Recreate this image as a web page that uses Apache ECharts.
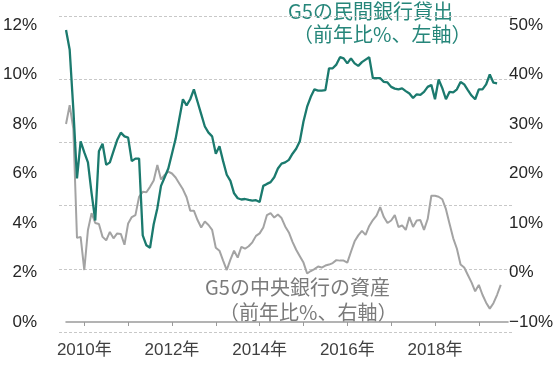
<!DOCTYPE html>
<html><head><meta charset="utf-8">
<script src="https://cdn.jsdelivr.net/npm/echarts@6/dist/echarts.min.js"></script>
<style>html,body{margin:0;padding:0;background:#fff}#c{width:556px;height:366px}</style>
</head><body><div id="c"></div>
<script>
// Monthly categories 2009-08 .. 2019-09
const months = [];
for (let y = 2009, m = 8; y < 2019 || (y === 2019 && m <= 9); ) {
  months.push(y + '-' + (m < 10 ? '0' + m : m));
  m++; if (m > 12) { m = 1; y++; }
}
const leftTicks = [0, 2, 4, 6, 8, 10, 12];
const rightTicks = [-10, 0, 10, 20, 30, 40, 50];
const yearLabels = ['2010', '2012', '2014', '2016', '2018'];

// G5 private bank lending, % y/y (left axis)
const bankLending = [11.8,11.0,8.6,5.8,7.3,6.85,6.45,5.2,4.1,6.9,7.2,6.35,6.45,6.9,7.35,7.65,7.5,7.45,6.5,6.6,
6.6,3.5,3.1,3.0,3.95,4.6,5.5,5.85,6.2,6.8,7.4,8.2,9.0,8.75,9.0,9.4,8.9,8.4,7.9,7.65,
7.5,6.8,7.1,6.5,5.95,5.7,5.2,5.0,4.95,4.97,4.93,4.9,4.92,4.85,5.5,5.58,5.65,5.85,6.2,6.4,
6.45,6.55,6.8,7.0,7.3,8.1,8.7,9.1,9.4,9.35,9.35,9.37,10.25,10.25,10.4,10.7,10.65,10.45,10.65,10.45,
10.35,10.5,10.6,10.7,9.85,9.85,9.85,9.7,9.68,9.5,9.43,9.4,9.44,9.33,9.23,9.05,9.2,9.18,9.3,9.5,
9.58,9.0,9.8,9.45,9.0,9.3,9.28,9.4,9.7,9.6,9.37,9.15,9.0,9.4,9.4,9.6,10.0,9.67,9.64];
// G5 central bank assets, % y/y (right axis)
const cbAssets = [30,33.8,29,7,7.2,0.5,8.6,12,10,9.8,7.2,6.5,8.2,6.9,7.9,7.8,5.6,9.9,11.2,11.6,
15.3,16.3,16.2,17.3,18.6,21.7,18.8,19.7,20.4,20,19.2,18,16.8,15.2,12.5,12.5,10.6,9.1,10.3,9.6,
8.6,5.0,4.4,2.4,0.5,2.6,4.4,3.0,5.2,4.8,5.3,6.1,7.4,7.9,9.1,11.6,12.0,11.1,11.7,11.0,
9.3,8.1,6.2,4.6,3.3,2.0,-0.2,0.3,0.7,1.2,1.0,1.4,1.6,1.9,2.5,2.4,2.4,2.0,4.2,6.3,
7.5,8.4,7.6,9.4,10.6,11.5,13.2,11.2,10.0,10.5,11.6,9.2,9.5,8.6,11.2,9.2,10.5,10.6,8.6,10.8,
15.5,15.5,15.3,14.8,12.8,9.8,6.9,4.8,1.6,1.0,-0.5,-2.0,-3.8,-2.5,-4.5,-6.1,-7.3,-6.2,-4.5,-2.5];

const GREEN = '#1b7a6e', GREEN_T = '#26867a', GRAY = '#a3a3a3', GRAY_T = '#7b7b7b';
const numFont = '"Liberation Sans","Noto Sans CJK JP",sans-serif';
const cjkFont = '"Noto Sans CJK JP",sans-serif';

const chart = echarts.init(document.getElementById('c'), null, {renderer: 'canvas'});
chart.setOption({
  animation: false,
  backgroundColor: '#fff',
  grid: [
    {left: 59, right: 43, top: 25, bottom: 44},
    {left: 59, right: 43, top: 16, bottom: 34}
  ],
  xAxis: [
    {
      type: 'category', gridIndex: 0, data: months, boundaryGap: false, offset: 10,
      axisLine: {lineStyle: {color: '#9a9a9a', width: 1.5}},
      axisTick: {show: true, length: 4, lineStyle: {color: '#9a9a9a'},
        interval: (i, v) => v.endsWith('-01')},
      axisLabel: {
        interval: (i, v) => v.endsWith('-01') && yearLabels.includes(v.slice(0, 4)),
        formatter: v => v.slice(0, 4) + '年',
        color: '#404040', fontSize: 17, margin: 10, fontFamily: numFont
      },
      splitLine: {show: false}
    },
    {type: 'category', gridIndex: 1, data: months, boundaryGap: false, show: false}
  ],
  yAxis: [
    {
      type: 'value', gridIndex: 0, min: 0, max: 12, interval: 2, position: 'left',
      axisLine: {show: false}, axisTick: {show: false}, splitLine: {show: false},
      axisLabel: {formatter: '{value}%', color: '#262626', fontSize: 17, margin: 29, fontFamily: numFont}
    },
    {
      type: 'value', gridIndex: 0, min: -10, max: 50, interval: 10, position: 'right',
      axisLine: {show: false}, axisTick: {show: false}, splitLine: {show: false},
      axisLabel: {formatter: v => (v < 0 ? '−' + (-v) : v) + '%', color: '#262626', fontSize: 17, margin: 1, fontFamily: numFont}
    },
    {
      type: 'value', gridIndex: 1, min: 0, max: 5, interval: 1,
      axisLine: {show: false}, axisTick: {show: false}, axisLabel: {show: false},
      splitLine: {show: true, lineStyle: {color: '#c8c8c8', type: [3, 2], width: 1}}
    }
  ],
  series: [
    {
      name: 'G5の中央銀行の資産', type: 'line', xAxisIndex: 0, yAxisIndex: 1,
      data: cbAssets, showSymbol: false, symbol: 'none',
      lineStyle: {color: GRAY, width: 2}, z: 2
    },
    {
      name: 'G5の民間銀行貸出', type: 'line', xAxisIndex: 0, yAxisIndex: 0,
      data: bankLending, showSymbol: false, symbol: 'none',
      lineStyle: {color: GREEN, width: 2.3}, z: 3
    }
  ],
  graphic: [
    {type: 'text', left: 288, top: 1, style: {text: 'G5の民間銀行貸出', fill: GREEN_T, font: '20px ' + cjkFont}},
    {type: 'text', left: 293, top: 24, style: {text: '（前年比%、左軸）', fill: GREEN_T, font: '20px ' + cjkFont}},
    {type: 'text', left: 205, top: 277, style: {text: 'G5の中央銀行の資産', fill: GRAY_T, font: '20px ' + cjkFont}},
    {type: 'text', left: 219, top: 302, style: {text: '（前年比%、右軸）', fill: GRAY_T, font: '20px ' + cjkFont}}
  ]
});
</script></body></html>
